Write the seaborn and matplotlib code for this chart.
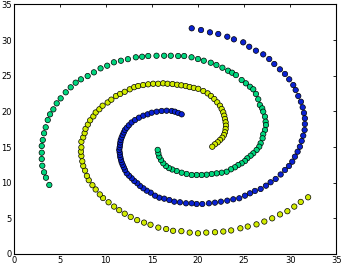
import pandas as pd
import seaborn as sns
import matplotlib.pyplot as plt

# arm 1 (blue), read from outer end inwards
blue_x = [19.32, 20.33, 21.30, 22.20, 23.18, 23.90, 24.91, 25.56, 26.29, 27.08,
          27.73, 28.28, 28.89, 29.44, 29.90, 30.34, 30.60, 30.88, 31.17, 31.36,
          31.50, 31.60, 31.60, 31.57, 31.42, 31.25, 31.06, 30.81, 30.52, 30.23,
          29.87, 29.44, 28.97, 28.43, 27.88, 27.38, 26.80, 26.18, 25.64, 25.10,
          24.48, 23.83, 23.18, 22.49, 21.84, 21.19, 20.47, 19.86, 19.32, 18.70,
          18.05, 17.43, 16.89, 16.34, 15.80, 15.34, 14.87, 14.44, 14.07, 13.71,
          13.42, 13.09, 12.81, 12.52, 12.27, 12.08, 11.95, 11.83, 11.72, 11.65,
          11.58, 11.54, 11.50, 11.46, 11.50, 11.54, 11.58, 11.62, 11.72, 11.83,
          11.95, 12.08, 12.27, 12.50, 12.80, 13.17, 13.60, 14.07, 14.54, 14.98,
          15.52, 16.06, 16.60, 17.15, 17.50, 17.86, 18.23]
blue_y = [31.66, 31.42, 31.09, 30.86, 30.48, 30.11, 29.69, 29.07, 28.52, 28.00,
          27.35, 26.65, 25.90, 25.25, 24.50, 23.70, 23.00, 22.16, 21.36, 20.57,
          19.78, 19.03, 18.23, 17.39, 16.60, 15.85, 15.05, 14.35, 13.65, 12.95,
          12.34, 11.78, 11.15, 10.52, 10.06, 9.58, 9.12, 8.84, 8.51, 8.18,
          7.81, 7.67, 7.48, 7.34, 7.20, 7.11, 7.01, 7.01, 7.11, 7.11,
          7.25, 7.34, 7.57, 7.76, 7.90, 8.18, 8.60, 8.88, 9.21, 9.54,
          9.92, 10.24, 10.62, 10.98, 11.32, 11.78, 12.15, 12.50, 12.85, 13.20,
          13.55, 13.90, 14.25, 14.60, 14.95, 15.30, 15.65, 16.00, 16.35, 16.70,
          17.05, 17.40, 17.70, 18.05, 18.45, 18.79, 19.12, 19.40, 19.59, 19.82,
          19.96, 20.06, 20.10, 20.06, 19.96, 19.78, 19.59]

# arm 2 (green)
green_x = [3.87, 3.51, 3.30, 3.11, 3.05, 3.05, 3.05, 3.16, 3.30, 3.48,
           3.70, 3.95, 4.31, 4.67, 5.10, 5.65, 6.19, 6.73, 7.30, 8.03,
           8.71, 9.43, 10.15, 10.88, 11.64, 12.40, 13.26, 13.94, 14.60, 15.50,
           16.33, 17.05, 17.85, 18.50, 19.30, 20.00, 20.63, 21.39, 22.00, 22.65,
           23.26, 23.70, 24.12, 24.74, 25.20, 25.64, 26.00, 26.29, 26.54, 26.72,
           26.97, 27.08, 27.27, 27.34, 27.38, 27.27, 27.08, 27.01, 26.80, 26.65,
           26.36, 26.00, 25.71, 25.35, 25.10, 24.74, 24.37, 24.01, 23.58, 23.11,
           22.57, 22.03, 21.49, 20.94, 20.40, 19.86, 19.32, 18.77, 18.23, 17.69,
           17.21, 16.85, 16.53, 16.24, 15.99, 15.80, 15.70, 15.63]
green_y = [9.68, 10.70, 11.46, 12.38, 13.32, 14.21, 15.15, 15.99, 16.93, 17.77,
           18.79, 19.59, 20.29, 21.13, 21.83, 22.68, 23.38, 24.03, 24.50, 24.96,
           25.48, 26.04, 26.41, 26.89, 27.11, 27.33, 27.59, 27.67, 27.77, 27.81,
           27.81, 27.81, 27.77, 27.77, 27.59, 27.35, 27.11, 26.83, 26.51, 26.13,
           25.71, 25.43, 25.10, 24.40, 23.94, 23.46, 23.10, 22.45, 21.70, 20.90,
           20.43, 19.96, 19.26, 18.56, 18.09, 17.39, 16.79, 16.23, 15.53, 15.05,
           14.59, 14.12, 13.79, 13.42, 13.04, 12.72, 12.48, 12.16, 11.88, 11.54,
           11.40, 11.31, 11.22, 11.12, 11.08, 11.08, 11.08, 11.22, 11.40, 11.64,
           11.85, 12.05, 12.34, 12.72, 13.18, 13.65, 14.12, 14.60]

# arm 3 (yellow)
yellow_x = [31.95, 31.15, 30.45, 29.70, 28.90, 28.05, 27.20, 26.35, 25.40, 24.60,
            23.60, 22.75, 21.85, 20.90, 20.00, 19.10, 18.20, 17.30, 16.55, 15.70,
            14.85, 14.15, 13.40, 12.70, 12.05, 11.45, 10.90, 10.30, 9.70, 9.35,
            8.90, 8.55, 8.15, 7.95, 7.75, 7.55, 7.45, 7.35, 7.30, 7.35,
            7.35, 7.55, 7.70, 7.80, 8.05, 8.30, 8.65, 8.90, 9.30, 9.65,
            10.20, 10.60, 11.10, 11.55, 12.05, 12.60, 13.08, 13.51, 14.05, 14.60,
            15.14, 15.68, 16.22, 16.70, 17.24, 17.74, 18.20, 18.68, 19.10, 19.55,
            20.03, 20.58, 21.05, 21.41, 21.77, 22.09, 22.39, 22.57, 22.74, 22.85,
            22.93, 23.00, 23.04, 23.00, 22.93, 22.82, 22.64, 22.39, 22.14, 21.84,
            21.55]
yellow_y = [7.95, 7.30, 6.65, 6.00, 5.55, 5.00, 4.55, 4.15, 3.85, 3.60,
            3.30, 3.15, 3.05, 3.00, 2.90, 3.00, 3.20, 3.25, 3.50, 3.70,
            4.10, 4.40, 4.75, 5.20, 5.65, 6.15, 6.65, 7.25, 7.85, 8.35,
            9.05, 9.65, 10.35, 10.95, 11.70, 12.35, 13.00, 13.75, 14.35, 14.95,
            15.75, 16.35, 16.95, 17.55, 18.15, 18.75, 19.30, 19.85, 20.30, 20.80,
            21.25, 21.65, 22.15, 22.45, 22.75, 23.10, 23.40, 23.56, 23.70, 23.80,
            23.88, 23.88, 23.94, 23.88, 23.84, 23.74, 23.66, 23.56, 23.42, 23.30,
            23.17, 22.86, 22.53, 22.16, 21.74, 21.27, 20.80, 20.34, 19.87, 19.40,
            18.93, 18.47, 18.00, 17.53, 17.07, 16.69, 16.31, 15.99, 15.67, 15.39,
            15.05]

COLOURS = {1: "#0a22d2", 2: "#00d67e", 3: "#d2ec00"}

df = pd.concat([
    pd.DataFrame({"x": blue_x, "y": blue_y, "cluster": 1}),
    pd.DataFrame({"x": green_x, "y": green_y, "cluster": 2}),
    pd.DataFrame({"x": yellow_x, "y": yellow_y, "cluster": 3}),
])

sns.set_style("white")
fig, ax = plt.subplots(figsize=(3.41, 2.64), dpi=100)
fig.subplots_adjust(left=0.04, right=0.986, bottom=0.038, top=0.983)

sns.scatterplot(data=df, x="x", y="y", hue="cluster", palette=COLOURS,
                s=15, edgecolor="black", linewidth=0.5, legend=False, ax=ax)

ax.set_xlim(0, 35)
ax.set_ylim(0, 35)
ax.set_xticks(range(0, 36, 5))
ax.set_yticks(range(0, 36, 5))
ax.set_xlabel("")
ax.set_ylabel("")
ax.tick_params(direction="in", top=True, right=True, length=2.5, width=0.6,
               labelsize=6, pad=1.5, colors="black")
for spine in ax.spines.values():
    spine.set_linewidth(0.8)
    spine.set_color("black")

fig.savefig("out.png", dpi=100)
